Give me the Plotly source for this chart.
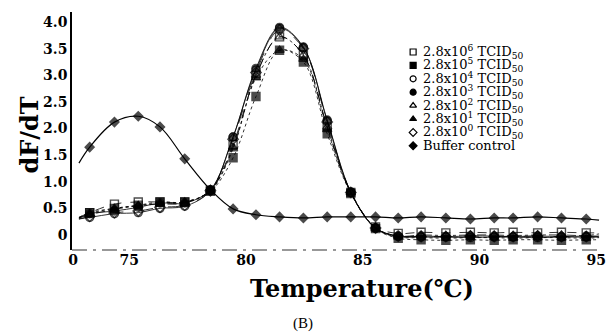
import plotly.graph_objects as go

# ---- data ----
temps = [72.85, 73.31, 74.37, 75.39, 76.32, 77.38, 78.48, 79.45, 80.43, 81.44, 82.46,
         83.48, 84.49, 85.55, 86.52, 87.50, 88.56, 89.61, 90.63, 91.44, 92.49,
         93.51, 94.57, 95.12]
# first / last entries are where the fitted curves start and end (no marker)

s_1e6 = [0.33, 0.42, 0.58, 0.62, 0.62, 0.62, 0.84, 1.70, 3.00, 3.72, 3.38, 2.03, 0.80, 0.15,
         0.03, 0.05, 0.04, 0.05, 0.04, 0.05, 0.04, 0.05, 0.04, 0.04]
s_1e5 = [0.33, 0.42, 0.50, 0.56, 0.62, 0.62, 0.82, 1.45, 2.60, 3.47, 3.25, 1.90, 0.78, 0.12,
         -0.06, -0.09, -0.10, -0.09, -0.10, -0.09, -0.09, -0.10, -0.09, -0.09]
s_1e4 = [0.30, 0.33, 0.40, 0.42, 0.50, 0.54, 0.83, 1.84, 3.10, 3.88, 3.52, 2.14, 0.80, 0.13,
         -0.02, -0.04, -0.04, -0.05, -0.04, -0.04, -0.05, -0.04, -0.04, -0.04]
s_1e3 = [0.32, 0.40, 0.45, 0.52, 0.60, 0.60, 0.85, 1.84, 3.13, 3.90, 3.53, 2.16, 0.81, 0.13,
         -0.03, -0.02, -0.03, -0.02, -0.02, -0.03, -0.02, -0.03, -0.02, -0.02]
s_1e2 = [0.32, 0.38, 0.48, 0.55, 0.58, 0.60, 0.84, 1.65, 3.00, 3.72, 3.38, 2.03, 0.80, 0.14,
         -0.02, 0.00, -0.01, 0.00, 0.00, -0.01, 0.00, 0.00, -0.01, 0.02]
s_1e1 = [0.32, 0.40, 0.50, 0.55, 0.60, 0.62, 0.83, 1.62, 2.95, 3.47, 3.30, 1.98, 0.79, 0.12,
         -0.04, -0.05, -0.06, -0.05, -0.05, -0.06, -0.05, -0.05, -0.06, -0.05]
s_1e0 = [0.30, 0.35, 0.42, 0.45, 0.52, 0.56, 0.83, 1.80, 3.05, 3.85, 3.50, 2.12, 0.80, 0.13,
         -0.02, -0.03, -0.03, -0.02, -0.03, -0.03, -0.02, -0.03, -0.03, -0.03]
buffer = [1.35, 1.65, 2.12, 2.23, 2.03, 1.43, 0.85, 0.49, 0.38, 0.34, 0.32, 0.34, 0.34, 0.34,
          0.32, 0.34, 0.32, 0.30, 0.32, 0.32, 0.34, 0.32, 0.30, 0.28]

series_labels = ["2.8x10<sup>6</sup> TCID<sub>50</sub>",
                 "2.8x10<sup>5</sup> TCID<sub>50</sub>",
                 "2.8x10<sup>4</sup> TCID<sub>50</sub>",
                 "2.8x10<sup>3</sup> TCID<sub>50</sub>",
                 "2.8x10<sup>2</sup> TCID<sub>50</sub>",
                 "2.8x10<sup>1</sup> TCID<sub>50</sub>",
                 "2.8x10<sup>0</sup> TCID<sub>50</sub>",
                 "Buffer control"]
series_values = [s_1e6, s_1e5, s_1e4, s_1e3, s_1e2, s_1e1, s_1e0, buffer]
symbols = ["square-open", "square", "circle-open", "circle",
           "triangle-up-open", "triangle-up", "diamond-open", "diamond"]
dashes = ["dash", "dot", "solid", "solid", "dashdot", "dot", "longdash", "solid"]

x_tick_vals = [72.6, 75, 80, 85, 90, 95]
x_tick_text = ["0", "75", "80", "85", "90", "95"]
y_tick_vals = [0, 0.5, 1.0, 1.5, 2.0, 2.5, 3.0, 3.5, 4.0]
y_tick_text = ["0", "0.5", "1.0", "1.5", "2.0", "2.5", "3.0", "3.5", "4.0"]

SERIF = "DejaVu Serif"

fig = go.Figure()
n = len(temps)
for i, (vals, sym, dsh) in enumerate(zip(series_values, symbols, dashes)):
    is_buf = i == len(series_values) - 1
    msize = 7 if is_buf else 8
    sizes = [0] + [msize] * (n - 2) + [0]
    fig.add_trace(go.Scatter(
        x=temps, y=vals, mode="lines+markers",
        line=dict(color="black", width=1.2 if is_buf else 0.8, dash=dsh,
                  shape="spline", smoothing=1.0),
        marker=dict(symbol=sym, size=sizes,
                    color="black", line=dict(color="black", width=1.4)),
        showlegend=False, hoverinfo="skip"))

# legend drawn on a pixel-like overlay axis
leg_y = [52 + 13.4 * k for k in range(len(series_labels))]
fig.add_trace(go.Scatter(
    x=[417] * len(series_labels), y=leg_y, mode="markers",
    marker=dict(symbol=symbols, size=6, color="black", line=dict(color="black", width=1.2)),
    xaxis="x2", yaxis="y2", showlegend=False, hoverinfo="skip"))
for lab, yy in zip(series_labels, leg_y):
    fig.add_annotation(x=425, y=yy, xref="x2", yref="y2", text=lab, showarrow=False,
                       xanchor="left", yanchor="middle",
                       font=dict(family=SERIF, size=13, color="black"))

fig.add_annotation(x=-0.0805, y=0.483, xref="paper", yref="paper", text="<b>dF/dT</b>",
                   textangle=-90, showarrow=False, xanchor="center", yanchor="middle",
                   font=dict(family=SERIF, size=24, color="black"))
fig.add_annotation(x=0.55, y=-0.16, xref="paper", yref="paper", text="<b>Temperature(℃)</b>",
                   showarrow=False, xanchor="center", yanchor="middle",
                   font=dict(family=SERIF, size=24, color="black"))
fig.add_annotation(x=0.438, y=-0.307, xref="paper", yref="paper", text="(B)",
                   showarrow=False, xanchor="center", yanchor="middle",
                   font=dict(family="Liberation Serif", size=15, color="black"))

fig.add_shape(type="line", xref="paper", yref="paper", x0=0, x1=1, y0=0, y1=0,
              line=dict(color="#777777", width=1.5, dash="longdashdot"))

fig.update_layout(
    width=614, height=336, margin=dict(l=72, r=8, t=12, b=86),
    paper_bgcolor="white", plot_bgcolor="white",
    xaxis=dict(range=[72.553, 95.16], tickvals=x_tick_vals, ticktext=x_tick_text,
               showgrid=False, zeroline=False, showline=False, ticks="",
               tickfont=dict(family=SERIF, size=14, color="black", weight="bold")),
    yaxis=dict(range=[-0.282, 4.188], tickvals=y_tick_vals, ticktext=y_tick_text,
               showgrid=False, zeroline=False, showline=True, linecolor="black",
               linewidth=1.5, ticks="",
               tickfont=dict(family=SERIF, size=14, color="black", weight="bold")),
    xaxis2=dict(range=[72, 606], overlaying="x", visible=False),
    yaxis2=dict(range=[250, 12], overlaying="y", visible=False),
)

fig.write_html("out.html")
